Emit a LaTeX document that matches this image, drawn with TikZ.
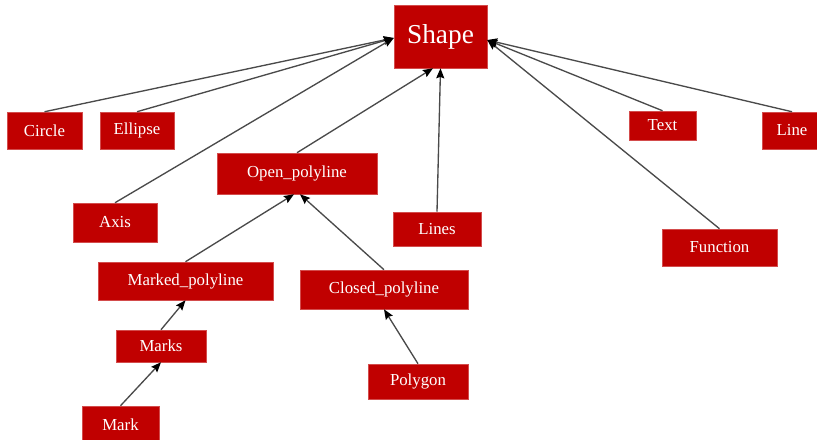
\documentclass[tikz,border=0pt]{standalone}
\usepackage{fontspec}
\setmainfont{Liberation Serif}
\usetikzlibrary{arrows.meta,calc}
\definecolor{boxred}{HTML}{C00000}
\definecolor{edgegray}{HTML}{4A4A4A}
\tikzset{
  cls/.style={fill=boxred, draw=boxred!70!white, line width=0.4pt, text=white, font=\fontsize{12.6}{14}\selectfont, inner sep=0pt, anchor=center},
  conn/.style={draw=edgegray, line width=1pt, -{Stealth[length=7.5pt,width=6pt,inset=1pt,color=black]}}
}
\newcommand{\cbox}[6]{\node[cls, minimum width=#4*0.75pt, minimum height=#5*0.75pt] (#1) at (#2,#3) {#6};}
\begin{document}
\begin{tikzpicture}[x=0.75pt,y=-0.75pt]
\useasboundingbox (0,0) rectangle (817,439);
\begin{scope}
\clip (0,0) rectangle (817,439);
\node[cls, minimum width=93*0.75pt, minimum height=63*0.75pt, font=\fontsize{20.5}{24}\selectfont] (shape) at (440.5,36.5) {Shape};
\cbox{circle}{44.5}{130.5}{75}{37}{Circle}
\cbox{ellipse}{137}{130.5}{74}{37}{Ellipse}
\cbox{text}{662.5}{125.5}{67}{29}{Text}
\cbox{line}{792}{130.5}{60}{37}{Line}
\cbox{axis}{115}{222.5}{84}{39}{Axis}
\cbox{open}{297}{173.5}{160}{41}{Open\_polyline}
\cbox{lines}{437}{229}{88}{34}{Lines}
\cbox{function}{719.5}{247.5}{115}{37}{Function}
\cbox{marked}{185.5}{281}{175}{38}{Marked\_polyline}
\cbox{closed}{384}{289.5}{168}{39}{Closed\_polyline}
\cbox{marks}{161}{346}{90}{32}{Marks}
\cbox{polygon}{418}{381.5}{100}{35}{Polygon}
\cbox{mark}{120.5}{424.5}{77}{37}{Mark}
\coordinate (sw) at ($(shape.west)+(0,1.5)$);
\coordinate (se) at ($(shape.east)+(0,3.5)$);
\coordinate (ss1) at ($(shape.south)+(-7.5,0)$);
\coordinate (ss2) at ($(shape.south)+(0,0)$);
\coordinate (os1) at ($(open.south)+(-3,0)$);
\coordinate (os2) at ($(open.south)+(3,0)$);
\draw[conn] (circle.north) -- (sw);
\draw[conn] (ellipse.north) -- (sw);
\draw[conn] (axis.north) -- (sw);
\draw[conn] (open.north) -- (ss1);
\draw[conn] (lines.north) -- (ss2);
\draw[conn] (function.north) -- (se);
\draw[conn] (text.north) -- (se);
\draw[conn] (line.north) -- (se);
\draw[conn] (marked.north) -- (os1);
\draw[conn] (closed.north) -- (os2);
\draw[conn] (marks.north) -- (marked.south);
\draw[conn] (polygon.north) -- (closed.south);
\draw[conn] (mark.north) -- (marks.south);
\end{scope}
\end{tikzpicture}
\end{document}
